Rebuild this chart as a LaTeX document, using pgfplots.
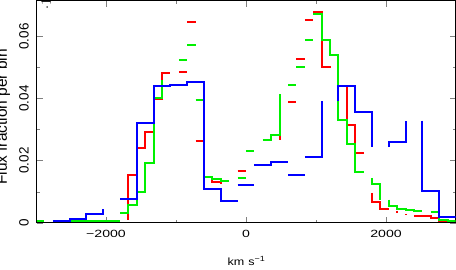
\documentclass[border=0pt]{standalone}
\usepackage{pgfplots}
\pgfplotsset{compat=1.18}
\usepackage{fontspec}
\setmainfont{Liberation Sans}
\newfontfamily\wideft[FakeStretch=1.35]{Liberation Sans}
\newfontfamily\midft[FakeStretch=1.2]{Liberation Sans}
\definecolor{cR}{RGB}{255,0,0}
\definecolor{cG}{RGB}{0,240,0}
\definecolor{cB}{RGB}{0,0,255}
\begin{document}
\begin{tikzpicture}
\begin{axis}[
  scale only axis, width=419bp, height=222bp,
  xmin=-2990, xmax=2995, ymin=0, ymax=0.0715,
  axis line style={line width=0.9pt},
  tick align=inside, tick pos=both,
  major tick length=6bp, minor tick length=3bp,
  xtick={-2000,0,2000},
  xticklabels={−2000,0,2000},
  minor xtick={-1000,1000},
  ytick={0,0.02,0.04,0.06},
  yticklabels={0,0.02,0.04,0.06},
  minor ytick={0.01,0.03,0.05},
  xticklabel style={font=\wideft\fontsize{10.5}{12}\selectfont, anchor=north, inner sep=0pt},
  xticklabel shift=7bp,
  yticklabel style={font=\fontsize{13.5}{15}\selectfont, rotate=90, anchor=base, inner sep=0pt},
  yticklabel shift=8bp,
  xlabel={km\hspace{4bp}s\raisebox{4bp}{\fontsize{7.5}{8}\selectfont −1}},
  xlabel style={font=\midft\fontsize{10.5}{12}\selectfont, at={(axis description cs:0.5,-0.194)}, anchor=base},
  ylabel={Flux fraction per bin},
  ylabel style={font=\fontsize{15.5}{18}\selectfont, at={(axis description cs:-0.071,0.476)}, anchor=base},
  unbounded coords=jump,
]
\addplot[cR, line width=2pt, mark=none] coordinates {
(-1680,0.001)(-1680,0.0152)(-1560,0.0152)(-1560,0.0241)(-1440,0.0241)(-1440,0.0292)(-1320,0.0292)(-1320,0.0398)(-1200,0.0398)(-1200,0.0482)(-1080,0.0482)
(-1000,nan)
(-960,0.0484)(-840,0.0484) (-840,nan)
(-840,0.0645)(-720,0.0645) (-720,nan)
(-720,0.0264)(-600,0.0264) (-600,nan)
(-600,0.0147)(-480,0.0147)(-480,0.0130)(-360,0.0130)(-360,0.0125)
(-300,nan)
(-120,0.0165)(0,0.0165) (0,nan)
(240,0.0267)(360,0.0267) (360,nan)
(480,0.0283)(480,0.0267) (480,nan)
(600,0.0389)(720,0.0389) (720,nan)
(720,0.0528)(840,0.0528) (840,nan)
(840,0.0654)(960,0.0654) (960,nan)
(960,0.0680)(1080,0.0680)(1080,0.0501)(1200,0.0501)(1200,0.0505)
(1250,nan)
(1320,0.0439)(1440,0.0439)(1440,0.0315)(1560,0.0315)(1560,0.0224)(1680,0.0224)
(1700,nan)
(1800,0.0096)(1800,0.0067)(1920,0.0067)(1920,0.0044)(2040,0.0044)
(2100,nan)
(2160,0.0038)(2160,0.0031) (2200,nan)
(2280,0.0028)(2280,0.0024) (2300,nan)
(2400,0.0020)(2640,0.0020)(2640,0.0015)(2760,0.0015)(2760,0.0007)(2880,0.0007)
};
\addplot[cG, line width=2pt, mark=none] coordinates {
(-2990,0.0005)(-2880,0.0005) (-2850,nan)
(-2760,0.0005)(-1800,0.0005) (-1800,nan)
(-1800,0.0031)(-1680,0.0031)(-1680,0.0058)(-1560,0.0058)(-1560,0.0098)(-1440,0.0098)(-1440,0.0192)(-1320,0.0192)(-1320,0.0402)(-1200,0.0402)(-1200,0.0458)
(-1100,nan)
(-960,0.0523)(-840,0.0523) (-840,nan)
(-840,0.0573)(-720,0.0573) (-720,nan)
(-720,0.0394)(-600,0.0394) (-600,nan)
(-600,0.0147)(-480,0.0147)(-480,0.0142)(-360,0.0142)(-360,0.0133)(-240,0.0133)
(-200,nan)
(-120,0.0143)(0,0.0143) (0,nan)
(0,0.0232)(120,0.0232) (120,nan)
(240,0.0267)(360,0.0267)(360,0.0283)(480,0.0283)(480,0.0413)
(500,nan)
(600,0.0443)(720,0.0443) (720,nan)
(720,0.0501)(840,0.0501) (840,nan)
(840,0.0589)(960,0.0589) (960,nan)
(960,0.0673)(1080,0.0673)(1080,0.0587)(1200,0.0587)(1200,0.0541)(1320,0.0541)(1320,0.0332)(1440,0.0332)(1440,0.0254)(1560,0.0254)(1560,0.0163)(1680,0.0163)
(1700,nan)
(1800,0.0144)(1800,0.0126)(1920,0.0126)(1920,0.0074)
(1950,nan)
(2040,0.0074)(2040,0.0053)(2160,0.0053)(2160,0.0044)(2280,0.0044)(2280,0.0040)(2400,0.0040)(2400,0.0038)(2520,0.0038)
(2550,nan)
(2640,0.0033)(2760,0.0033)(2760,0.0008)(2880,0.0008)(2880,0.0005)(2995,0.0005)
};
\addplot[cB, line width=2pt, mark=none] coordinates {
(-2760,0.0007)(-2520,0.0007)(-2520,0.0013)(-2280,0.0013)(-2280,0.0027)(-2040,0.0027)(-2040,0.0044)
(-1900,nan)
(-1800,0.0076)(-1560,0.0076)(-1560,0.0321)(-1320,0.0321)(-1320,0.0439)(-1080,0.0439)(-1080,0.0443)(-840,0.0443)(-840,0.0453)(-600,0.0453)(-600,0.0110)(-360,0.0110)(-360,0.0071)(-120,0.0071)
(-120,nan)
(-120,0.0121)(120,0.0121) (120,nan)
(120,0.0185)(360,0.0185)(360,0.0197)(600,0.0197) (600,nan)
(600,0.0152)(840,0.0152) (840,nan)
(840,0.0210)(1080,0.0210)(1080,0.0391)
(1200,nan)
(1320,0.0391)(1320,0.0439)(1560,0.0439)(1560,0.0358)(1800,0.0358)(1800,0.0243)
(1900,nan)
(2040,0.0243)(2040,0.0260)(2280,0.0260)(2280,0.0329)
(2400,nan)
(2520,0.0329)(2520,0.0103)(2760,0.0103)(2760,0.0019)(2995,0.0019)
};
\end{axis}
\pgfresetboundingbox
\path[use as bounding box] ([shift={(-36.7bp,-47.3bp)}]current axis.south west) rectangle ([shift={(0.3bp,0.7bp)}]current axis.north east);
\end{tikzpicture}
\end{document}
